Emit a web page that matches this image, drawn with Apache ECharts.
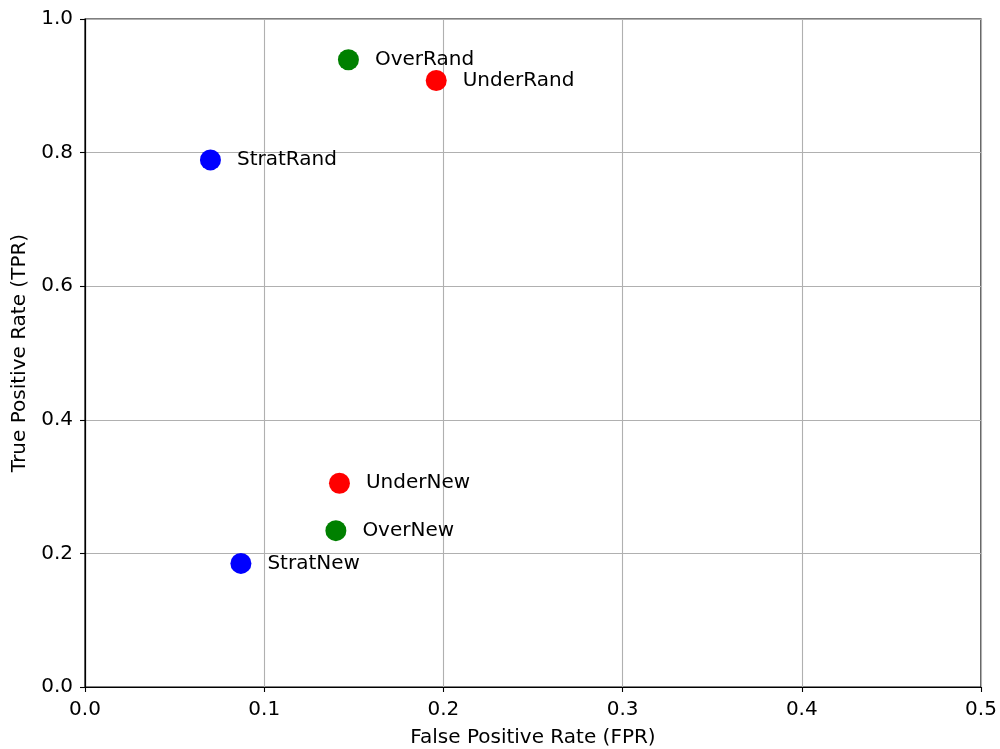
<!DOCTYPE html>
<html>
<head>
<meta charset="utf-8">
<script src="https://cdn.jsdelivr.net/npm/echarts@6/dist/echarts.min.js"></script>
<style>
html,body{margin:0;padding:0;background:#fff;}
#chart{width:1000px;height:749px;}
</style>
</head>
<body>
<div id="chart"></div>
<script>
// Sampling strategies compared in ROC space
const methods = ['OverRand', 'UnderRand', 'StratRand', 'UnderNew', 'OverNew', 'StratNew'];
const fpr = [0.147, 0.196, 0.070, 0.142, 0.140, 0.087];
const tpr = [0.939, 0.908, 0.789, 0.305, 0.234, 0.185];
const colors = ['#008000', '#ff0000', '#0000ff', '#ff0000', '#008000', '#0000ff'];
const xTicks = [0, 0.1, 0.2, 0.3, 0.4, 0.5];
const yTicks = [0, 0.2, 0.4, 0.6, 0.8, 1.0];

const font = 'DejaVu Sans';
const chart = echarts.init(document.getElementById('chart'), null, {renderer: 'canvas'});

const points = methods.map((m, i) => ({
  name: m,
  value: [fpr[i], tpr[i]],
  itemStyle: {color: colors[i], opacity: 1}
}));

const axisCommon = {
  axisLine: {show: true, lineStyle: {color: '#000', width: 1.2}},
  axisTick: {show: true, length: 5, lineStyle: {color: '#000', width: 1.1}},
  splitLine: {show: true, lineStyle: {color: '#b0b0b0', width: 1.1}},
  nameTextStyle: {fontFamily: font, fontSize: 20, color: '#000'}
};

chart.setOption({
  animation: false,
  backgroundColor: '#fff',
  grid: {
    left: 85, right: 19, top: 19, bottom: 62,
    containLabel: false, outerBoundsMode: 'none',
    show: true, borderColor: '#000', borderWidth: 1.2
  },
  xAxis: Object.assign({
    type: 'value', min: xTicks[0], max: xTicks[xTicks.length - 1], interval: 0.1,
    name: 'False Positive Rate (FPR)', nameLocation: 'middle', nameGap: 41,
    axisLabel: {fontFamily: font, fontSize: 20, color: '#000', margin: 13, formatter: v => v.toFixed(1)}
  }, axisCommon),
  yAxis: Object.assign({
    type: 'value', min: yTicks[0], max: yTicks[yTicks.length - 1], interval: 0.2,
    name: 'True Positive Rate (TPR)', nameLocation: 'middle', nameGap: 55, nameRotate: 90,
    axisLabel: {fontFamily: font, fontSize: 20, color: '#000', margin: 12, formatter: v => v.toFixed(1)}
  }, axisCommon),
  series: [{
    type: 'scatter',
    symbolSize: 21,
    data: points,
    label: {
      show: true, position: 'right', distance: 16,
      formatter: p => p.name,
      fontFamily: font, fontSize: 20, color: '#000'
    },
    emphasis: {disabled: true}
  }]
});
</script>
</body>
</html>
